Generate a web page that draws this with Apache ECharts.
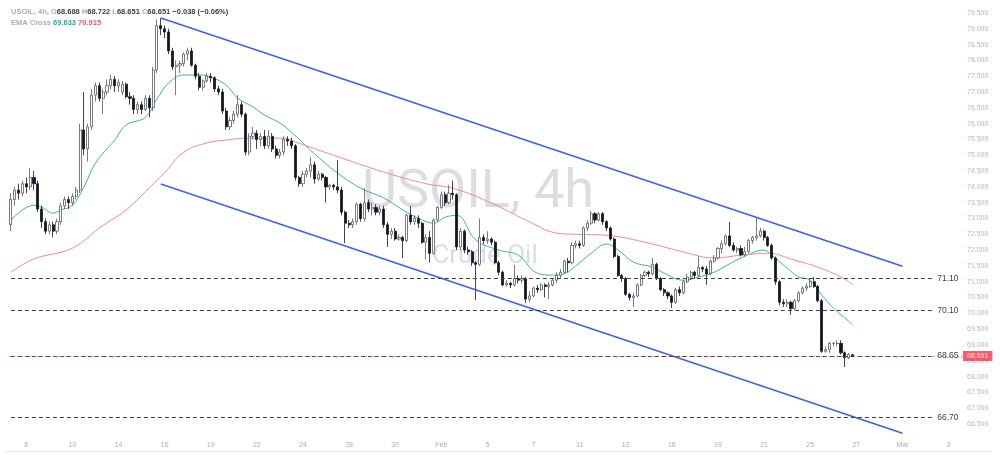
<!DOCTYPE html>
<html><head><meta charset="utf-8">
<script src="https://cdn.jsdelivr.net/npm/echarts/dist/echarts.min.js"></script>
<style>html,body{margin:0;padding:0;background:#fff}#c{width:1000px;height:462px}</style>
</head><body><div id="c"></div>
<script>
// ---- data ----
const tickLabels = ['8','10','14','16','19','22','24','28','30','Feb','5','7','11','13','16','19','21','25','27','Mar','3'];
const firstLabelSlot = 4;
const slotsPerLabel = 12;
const totalSlots = 248;

// [open, close, low, high] per 4h bar
const candles = [
[72.8,73.6,72.6,73.8],[73.6,73.9,73.4,74.0],[73.9,73.8,73.6,74.1],[73.8,74.1,73.7,74.2],[74.1,74.0,73.8,74.3],
[74.0,74.3,73.9,74.6],[74.3,74.1,73.9,74.5],[74.1,73.3,73.2,74.2],[73.3,72.9,72.7,73.4],[72.9,72.6,72.5,73.0],
[72.6,72.8,72.5,72.9],[72.8,72.6,72.4,72.9],[72.6,72.9,72.5,73.0],[72.9,73.4,72.8,73.5],[73.4,73.6,73.3,73.7],
[73.6,73.5,73.3,73.7],[73.5,73.7,73.4,73.8],[73.7,73.9,73.6,74.0],[73.9,75.8,73.8,76.0],[75.8,75.2,75.0,77.0],
[75.2,75.9,74.8,76.0],[75.9,76.9,75.8,77.1],[76.9,77.2,76.7,77.3],[77.2,76.8,76.7,77.3],[76.8,77.0,76.3,77.1],
[77.0,77.2,76.9,77.4],[77.2,77.4,77.1,77.55],[77.4,77.2,77.0,77.5],[77.2,77.3,77.0,77.4],[77.0,77.25,76.9,77.35],
[77.25,76.85,76.8,77.3],[76.85,76.8,76.6,77.0],[76.8,76.45,76.3,76.9],[76.45,76.6,76.3,76.7],[76.6,76.45,76.3,76.7],
[76.45,76.8,76.4,76.9],[76.8,76.5,76.2,76.9],[76.5,77.7,76.4,77.8],[77.7,79.1,77.6,79.3],[79.1,79.0,78.8,79.34],
[79.0,78.9,78.7,79.1],[78.9,78.3,78.2,79.0],[78.3,77.8,77.7,78.4],[77.8,77.85,76.9,78.0],[77.85,77.9,77.6,78.0],
[77.9,78.2,77.8,78.25],[78.2,78.3,78.0,78.4],[78.3,77.85,77.8,78.4],[77.85,77.5,77.4,77.9],[77.5,77.15,77.05,77.6],
[77.15,77.35,77.05,77.4],[77.35,77.5,77.3,77.6],[77.5,77.45,77.3,77.6],[77.45,77.1,77.0,77.5],[77.1,77.0,76.9,77.2],
[77.0,76.4,76.3,77.1],[76.4,75.9,75.8,76.5],[75.9,76.1,75.8,76.2],[76.1,76.3,76.0,76.4],[76.3,76.6,76.2,76.9],
[76.6,76.3,76.2,76.7],[76.3,75.1,75.0,76.35],[75.1,75.6,75.0,75.7],[75.6,75.7,75.5,75.9],[75.7,75.5,75.2,75.8],
[75.5,75.6,75.3,75.7],[75.6,75.3,75.2,75.8],[75.3,75.6,75.2,75.8],[75.6,75.2,75.1,75.7],[75.2,75.0,74.9,75.3],
[75.0,75.1,74.9,75.2],[75.1,75.5,75.0,75.6],[75.5,75.45,75.3,75.6],[75.45,75.3,75.2,75.55],[75.3,74.3,74.2,75.35],
[74.3,74.1,74.0,74.35],[74.1,74.4,74.0,74.5],[74.4,74.5,74.3,74.6],[74.5,74.7,74.3,74.94],[74.7,74.25,74.1,74.8],
[74.25,74.4,74.2,74.5],[74.4,74.3,74.2,74.45],[74.3,74.0,73.5,74.35],[74.0,74.05,73.9,74.1],[74.05,74.0,73.9,74.1],
[74.0,73.9,73.8,74.85],[73.9,73.2,73.1,74.0],[73.2,72.85,72.22,73.25],[72.85,72.8,72.7,72.95],[72.8,72.9,72.7,73.0],
[72.9,73.45,72.8,73.5],[73.45,73.0,72.9,73.5],[73.0,73.5,72.9,73.96],[73.5,73.3,73.2,73.6],[73.3,73.35,73.1,73.5],
[73.35,73.2,73.1,73.45],[73.2,73.3,73.1,73.4],[73.3,72.8,72.7,73.4],[72.8,72.5,72.1,72.9],[72.5,72.6,72.35,72.7],
[72.6,72.35,72.3,72.7],[72.35,72.4,72.3,72.5],[72.4,72.3,71.75,72.45],[72.3,73.1,72.25,73.15],[73.1,72.9,72.8,73.4],
[72.9,73.0,72.8,73.1],[73.0,72.85,72.7,73.1],[72.85,72.25,72.2,72.9],[72.25,72.4,71.7,72.5],[72.4,71.9,71.6,72.6],
[71.9,72.95,71.85,73.0],[72.95,73.35,72.9,73.4],[73.35,73.75,73.3,73.85],[73.75,73.5,73.4,73.85],[73.5,73.8,73.45,74.06],
[73.8,73.75,73.6,74.2],[73.75,72.1,72.0,73.8],[72.1,72.6,72.0,72.7],[72.6,72.0,71.9,72.65],[72.0,71.95,71.85,72.1],
[71.95,71.6,71.5,72.0],[71.6,71.55,70.42,71.65],[71.55,72.4,71.5,73.0],[72.4,72.3,72.2,72.5],[72.3,72.35,72.2,72.6],
[72.35,72.25,72.15,72.4],[72.25,71.6,71.55,72.3],[71.6,71.3,71.2,71.65],[71.3,70.9,70.85,71.35],[70.9,70.95,70.85,71.05],
[70.95,70.9,70.8,71.0],[70.9,71.1,70.85,71.53],[71.1,71.05,70.95,71.2],[71.05,71.1,70.95,71.2],[71.1,70.45,70.32,71.15],
[70.45,70.55,70.35,70.7],[70.55,70.8,70.5,70.85],[70.8,70.75,70.65,70.9],[70.75,70.9,70.7,70.95],[70.9,70.85,70.5,70.95],
[70.85,70.9,70.45,71.0],[70.9,71.05,70.85,71.1],[71.05,71.2,70.95,71.3],[71.2,71.3,71.1,71.4],[71.3,71.65,71.25,71.7],
[71.65,71.6,71.3,71.75],[71.6,72.15,71.55,72.25],[72.15,72.2,72.05,72.3],[72.2,72.15,72.05,72.3],[72.15,72.7,72.1,72.75],
[72.7,72.85,72.6,72.95],[72.85,73.15,72.8,73.25],[73.15,72.95,72.85,73.2],[72.95,73.15,72.9,73.2],[73.15,72.9,72.8,73.2],
[72.9,72.7,72.6,72.95],[72.7,72.35,72.3,72.75],[72.35,71.8,71.75,72.4],[71.8,71.2,71.15,71.85],[71.2,71.1,71.0,71.25],
[71.1,70.6,70.55,71.15],[70.6,70.5,70.4,70.65],[70.5,70.55,70.2,70.65],[70.55,70.9,70.5,70.95],[70.9,71.2,70.85,71.25],
[71.2,71.3,71.15,71.35],[71.3,71.25,71.15,71.35],[71.25,71.55,71.2,71.75],[71.55,71.1,71.05,71.6],[71.1,70.75,70.7,71.15],
[70.75,70.65,70.55,70.8],[70.65,70.55,70.45,70.7],[70.55,70.35,70.17,70.6],[70.35,70.75,70.3,70.8],[70.75,70.65,70.55,70.85],
[70.65,71.0,70.6,71.05],[71.0,71.15,70.95,71.25],[71.15,71.3,71.05,71.35],[71.3,71.2,71.1,71.35],[71.2,71.45,71.15,71.8],
[71.45,71.4,71.3,71.5],[71.4,71.25,70.9,71.5],[71.25,71.65,71.2,71.7],[71.65,71.75,71.6,71.85],[71.75,72.05,71.7,72.1],
[72.05,72.2,71.9,72.3],[72.2,72.45,72.15,72.5],[72.45,72.15,72.1,72.89],[72.15,72.0,71.95,72.25],[72.0,72.05,71.9,72.1],
[72.05,71.85,71.8,72.15],[71.85,71.95,71.8,72.1],[71.95,72.3,71.9,72.35],[72.3,72.4,72.2,72.45],[72.4,72.45,72.3,73.05],
[72.45,72.6,72.4,72.7],[72.6,72.4,72.3,72.65],[72.4,72.15,72.1,72.45],[72.15,71.75,71.7,72.2],[71.75,71.0,70.9,71.8],
[71.0,70.35,70.25,71.05],[70.35,70.3,70.2,70.45],[70.3,70.35,70.2,70.45],[70.35,70.15,69.95,70.4],[70.15,70.4,70.1,70.45],
[70.4,70.65,70.35,70.7],[70.65,70.8,70.6,70.85],[70.8,70.85,70.7,70.95],[70.85,71.0,70.8,71.1],[71.0,70.85,70.8,71.15],
[70.85,70.4,70.35,70.9],[70.4,68.8,68.75,70.45],[68.8,68.85,68.75,68.95],[68.85,69.05,68.75,69.1],[69.05,69.05,68.95,69.1],
[69.05,69.05,68.95,69.15],[69.05,68.75,68.7,69.15],[68.75,68.6,68.3,68.8],[68.6,68.7,68.55,68.75],[68.688,68.651,68.651,68.722]
];

// EMA readings [bar index, value]
const emaFast = [[0,72.95],[6,73.42],[8,73.36],[11,73.17],[13,73.27],[16,73.42],[19,74.0],[22,74.75],[27,75.48],[30,75.96],[35,76.2],[38,76.78],[41,77.28],[45,77.54],[49,77.54],[52,77.47],[56,77.22],[59,76.81],[63,76.53],[66,76.27],[70,76.02],[73,75.73],[78,75.16],[84,74.53],[91,73.96],[97,73.65],[102,73.27],[106,73.01],[110,72.85],[113,73.04],[116,73.1],[121,72.32],[127,72.0],[132,71.84],[137,71.27],[141,71.21],[144,71.25],[147,71.5],[151,71.9],[155,72.19],[158,72.0],[162,71.62],[167,71.46],[170,71.27],[175,71.05],[179,71.15],[183,71.3],[185,71.43],[190,71.75],[196,72.0],[198,71.84],[202,71.43],[205,71.15],[208,71.05],[211,70.58],[214,70.17],[218,69.75],[219,69.633]];
const emaSlow = [[0,71.3],[6,71.72],[16,72.06],[23,72.7],[30,73.27],[35,73.85],[40,74.45],[45,75.1],[51,75.39],[56,75.48],[61,75.54],[66,75.54],[71,75.54],[74,75.42],[84,75.0],[97,74.47],[108,74.1],[115,73.96],[125,73.49],[134,72.95],[142,72.54],[147,72.5],[155,72.47],[166,72.22],[175,71.94],[183,71.75],[190,71.84],[197,71.9],[204,71.68],[210,71.46],[216,71.15],[219,70.915]];

const upperChannel = [[39,79.34],[232,71.49]];
const lowerChannel = [[39,74.09],[232,66.21]];
const levels = [71.10, 70.10, 68.65, 66.70];
const levelEndSlot = 240;
const lastPrice = 68.651;
const headerOHLC = {o:'68.688', h:'68.722', l:'68.651', c:'68.651', chg:'−0.038 (−0.06%)'};
const emaLast = {fast:'69.633', slow:'70.915'};

// ---- chart ----
const slots = Array.from({length: totalSlots}, (_, i) => String(i));
const labelAt = {};
tickLabels.forEach((t, j) => { labelAt[firstLabelSlot + j * slotsPerLabel] = t; });

const chart = echarts.init(document.getElementById('c'), null, {renderer: 'canvas'});
const gray = '#a9acb5';
const fs = 7.5;
const option = {
  animation: false,
  backgroundColor: '#ffffff',
  textStyle: {fontFamily: 'Liberation Sans'},
  title: [
    {left: 6, top: 3, text:
      '{g|USOIL, 4h, O}{d|' + headerOHLC.o + '}{g| H}{d|' + headerOHLC.h + '}{g| L}{d|' + headerOHLC.l + '}{g| C}{d|' + headerOHLC.c + '}{d| ' + headerOHLC.chg + '}',
      textStyle: {rich: {g: {color: gray, fontSize: fs, fontFamily: 'Liberation Sans'}, d: {color: '#3a3d45', fontSize: fs, fontFamily: 'Liberation Sans'}}}},
    {left: 6, top: 14, text: '{g|EMA Cross }{gr|' + emaLast.fast + '}{r| ' + emaLast.slow + '}',
      textStyle: {rich: {g: {color: gray, fontSize: fs, fontFamily: 'Liberation Sans'}, gr: {color: '#22ab94', fontSize: fs, fontFamily: 'Liberation Sans'}, r: {color: '#f7525f', fontSize: fs, fontFamily: 'Liberation Sans'}}}}
  ],
  graphic: [
    {type: 'text', z: -10, style: {text: 'USOIL, 4h', fill: 'rgba(190,193,201,0.55)', font: '54px Roboto', textAlign: 'center', textVerticalAlign: 'middle'}, position: [478, 193]},
    {type: 'text', z: -10, style: {text: 'Crude Oil', fill: 'rgba(190,193,201,0.55)', font: '26px Roboto', textAlign: 'center', textVerticalAlign: 'middle'}, position: [485, 256]},
    {type: 'line', z: -10, shape: {x1: 5, y1: 451.5, x2: 992, y2: 451.5}, style: {stroke: '#e6e8ee', lineWidth: 1}}
  ],
  grid: {left: 9, right: 38, top: 13, bottom: 22.2, containLabel: false},
  xAxis: {
    type: 'category', data: slots, boundaryGap: true,
    axisLine: {show: false}, axisTick: {show: false}, splitLine: {show: false},
    axisLabel: {interval: (i) => labelAt[i] !== undefined, formatter: (v, i) => labelAt[i] || '', color: gray, fontSize: 7, margin: 2}
  },
  yAxis: {
    type: 'value', position: 'right', min: 66, max: 79.5, interval: 0.5, scale: true,
    axisLine: {show: false}, axisTick: {show: false}, splitLine: {show: false},
    axisLabel: {color: '#b4b7bf', fontSize: 7, margin: 5, formatter: (v) => v <= 66.001 ? '' : v.toFixed(3)}
  },
  series: [
    {
      type: 'candlestick', data: candles, barWidth: 2.6, z: 3,
      itemStyle: {color: '#ffffff', color0: '#131722', borderColor: '#555a63', borderColor0: '#131722', borderWidth: 0.8},
      markLine: {
        silent: true, symbol: ['none', 'none'], animation: false,
        data: levels.map(v => [
          {coord: ['0', v], lineStyle: {color: '#3c3f46', type: [4, 3], width: 1},
           label: {show: true, position: 'end', distance: 4, formatter: v.toFixed(2), color: '#3c3f46', fontSize: 8.5, fontFamily: 'Liberation Sans'}},
          {coord: [String(levelEndSlot), v]}
        ]).concat([
          {yAxis: lastPrice, lineStyle: {color: '#f23645', type: [2, 2], width: 0.8, opacity: 0.8},
           label: {show: true, position: 'end', distance: 1, formatter: lastPrice.toFixed(3), color: '#ffffff', backgroundColor: '#f23645', padding: [2, 4, 1, 4], fontSize: 7, fontFamily: 'Liberation Sans'}}
        ])
      }
    },
    {type: 'line', data: emaFast, smooth: 0.4, showSymbol: false, z: 2, lineStyle: {color: '#3fb39a', width: 1}},
    {type: 'line', data: emaSlow, smooth: 0.4, showSymbol: false, z: 2, lineStyle: {color: '#f08a90', width: 1}},
    {type: 'line', data: upperChannel, showSymbol: false, z: 4, lineStyle: {color: '#3b63e8', width: 1.6}},
    {type: 'line', data: lowerChannel, showSymbol: false, z: 4, lineStyle: {color: '#3b63e8', width: 1.6}}
  ]
};
chart.setOption(option);
</script>
</body></html>
